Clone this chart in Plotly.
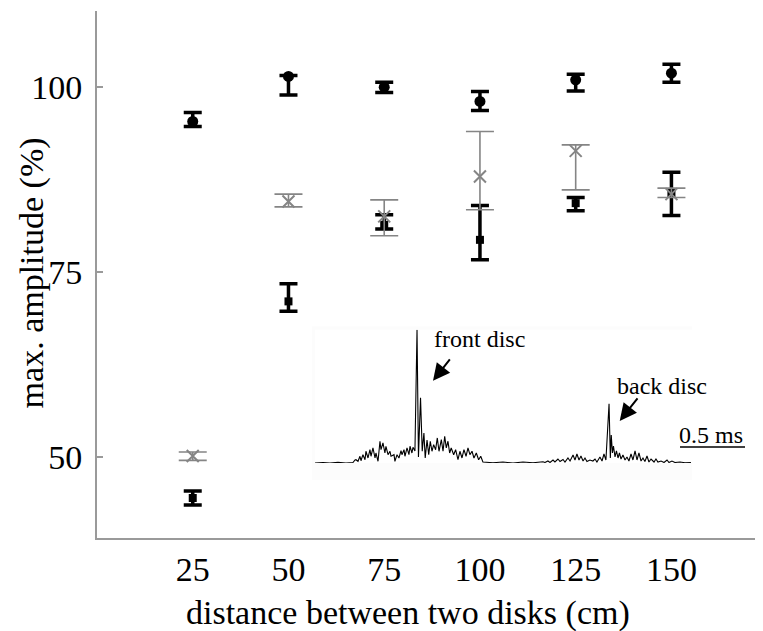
import plotly.graph_objects as go

# distances between the two discs (cm)
distance = [25, 50, 75, 100, 125, 150]

# front disc (filled circles)
front_mean = [95.36, 101.45, 100.0, 98.07, 100.99, 101.89]
front_plus = [1.22, 0.13, 0.68, 1.35, 0.77, 1.21]
front_minus = [0.67, 2.49, 0.72, 1.22, 1.49, 1.21]

# back disc (filled squares)
back_mean = [44.46, 71.04, 81.39, 79.36, 84.32, 85.68]
back_plus = [0.94, 2.38, 1.35, 4.65, 0.77, 2.83]
back_minus = [0.96, 1.35, 0.58, 2.70, 1.04, 3.02]

# grey crosses
cross_mean = [50.14, 84.55, 82.53, 87.93, 91.39, 85.54]
cross_plus = [0.54, 0.99, 2.24, 6.08, 0.81, 0.81]
cross_minus = [0.59, 0.73, 2.62, 4.51, 5.27, 0.45]

y_ticks = [50, 75, 100]

# inset: recorded signal (time in ms, amplitude in a.u.)
sig_t = [0, 0.062, 0.115, 0.177, 0.238, 0.292,
         0.308, 0.315, 0.331, 0.346, 0.354, 0.369, 0.385, 0.392, 0.408, 0.423,
         0.431, 0.446, 0.462, 0.469, 0.485, 0.500, 0.508, 0.523, 0.538, 0.546,
         0.562, 0.577, 0.585, 0.608, 0.615, 0.631, 0.646, 0.662, 0.669, 0.685,
         0.692, 0.708, 0.723, 0.731, 0.746, 0.754, 0.769,
         0.785, 0.796, 0.812, 0.825, 0.838, 0.848, 0.862, 0.875, 0.887, 0.900,
         0.913, 0.928, 0.941, 0.954, 0.972, 0.985, 0.998, 1.010, 1.023, 1.036,
         1.048, 1.067, 1.082, 1.100, 1.115, 1.131, 1.146, 1.162, 1.177, 1.192,
         1.208, 1.223, 1.241, 1.259, 1.275, 1.292, 1.318,
         1.369, 1.446, 1.523, 1.600, 1.677, 1.754,
         1.769, 1.792, 1.808, 1.831, 1.846, 1.869, 1.885, 1.908, 1.923, 1.946,
         1.962, 1.985, 2.000, 2.015, 2.031, 2.046, 2.062, 2.077, 2.092, 2.115,
         2.138, 2.154, 2.169, 2.192, 2.208, 2.223, 2.238,
         2.262, 2.272, 2.279, 2.288, 2.296, 2.308, 2.319, 2.331, 2.342, 2.354,
         2.369, 2.385, 2.400, 2.415, 2.431, 2.446, 2.462, 2.477, 2.492, 2.508,
         2.523, 2.538, 2.554, 2.569, 2.585, 2.608, 2.623, 2.638, 2.662, 2.685,
         2.708, 2.723, 2.746, 2.769, 2.808, 2.846, 2.892]
sig_a = [0, 0.5, 0, 0.7, 0, 0.5,
         3, 3.3, 1.7, 6.7, 2.3, 8.3, 3.3, 11.7, 5, 13.3,
         6.7, 15, 5, 10, 1.7, 21.7, 13.3, 20, 10, 16.7,
         8.3, 11.7, 6.7, 8.3, 1.7, 8.3, 5, 12.3, 8.3, 13.3,
         6.7, 15, 8.3, 16.7, 10, 15.7, 12,
         133, 6, 65, 11.7, 30, 5, 23, 8.3, 21.7, 11.7,
         18.3, 13.3, 25, 11.7, 23.3, 11.7, 26.7, 15, 21.7, 10,
         15, 8.3, 13.3, 3.3, 11.7, 5, 13.3, 6.7, 15, 8.3,
         11.7, 5, 10, 3.3, 6.7, 1, 0.7,
         0.3, 1, 0, 1, 0.3, 1.2,
         0.5, 2, 0.5, 3, 1, 4, 1.5, 3.5, 1, 5,
         2, 8, 3, 9, 3, 7, 2, 5, 1.5, 3,
         2, 4, 1, 6, 2, 9, 3,
         59, 5, 28, 10, 17, 6, 12, 5, 10, 4,
         8, 3, 6, 2, 9, 3, 12, 3, 10, 2,
         5, 1.5, 7, 1, 4, 1, 4, 1, 2, 0.5,
         3, 0.5, 2, 0.5, 1, 0.3, 0.5]

BLACK = "#000000"
GREY = "#858585"
AXIS_GREY = "#9a9a9a"
FONT = "Liberation Serif"

fig = go.Figure()

fig.add_trace(go.Scatter(
    x=distance, y=front_mean, mode="markers",
    marker=dict(symbol="circle", size=11, color=BLACK),
    error_y=dict(type="data", symmetric=False, array=front_plus, arrayminus=front_minus,
                 color=BLACK, thickness=3.5, width=9)))

fig.add_trace(go.Scatter(
    x=distance, y=back_mean, mode="markers",
    marker=dict(symbol="square", size=8, color=BLACK),
    error_y=dict(type="data", symmetric=False, array=back_plus, arrayminus=back_minus,
                 color=BLACK, thickness=3.5, width=9)))

fig.add_trace(go.Scatter(
    x=distance, y=cross_mean, mode="markers",
    marker=dict(symbol="x-thin-open", size=12, color=GREY, line=dict(color=GREY, width=2)),
    error_y=dict(type="data", symmetric=False, array=cross_plus, arrayminus=cross_minus,
                 color=GREY, thickness=1.6, width=14)))

# inset trace
fig.add_trace(go.Scatter(
    x=sig_t, y=sig_a, mode="lines", xaxis="x2", yaxis="y2",
    line=dict(color=BLACK, width=1.1)))

fig.update_layout(
    width=763, height=631,
    margin=dict(l=89, r=0, t=3, b=101, autoexpand=False),
    paper_bgcolor="white", plot_bgcolor="white",
    showlegend=False,
    font=dict(family=FONT, size=34, color=BLACK),
    xaxis=dict(
        range=[0, 176], tickvals=distance, ticks="", showgrid=False, zeroline=False,
        showline=True, linecolor=AXIS_GREY, linewidth=2, ticklabelstandoff=0,
        automargin=False),
    yaxis=dict(
        range=[39.05, 110.3], tickvals=y_ticks, ticks="inside", ticklen=6,
        tickcolor=AXIS_GREY, tickwidth=2, showgrid=False, zeroline=False,
        showline=True, linecolor=AXIS_GREY, linewidth=2, ticklabelstandoff=6,
        automargin=False),
    xaxis2=dict(domain=[0.3234, 0.9792], range=[0, 3.4], anchor="y2", visible=False),
    yaxis2=dict(domain=[0.1423, 0.3953], range=[0, 133], anchor="x2", visible=False),
)

# axis titles
title_font = dict(family=FONT, size=34, color=BLACK)
fig.add_annotation(xref="paper", yref="paper", x=-0.0972, y=0.503, xanchor="center", yanchor="middle",
                   text="max. amplitude (%)", textangle=-90, showarrow=False, font=title_font)
fig.add_annotation(xref="paper", yref="paper", x=0.4614, y=-0.1423, xanchor="center", yanchor="middle",
                   text="distance between two disks (cm)", showarrow=False, font=title_font)

# faint background of the pasted-in recording
fig.add_shape(type="rect", xref="paper", yref="paper", x0=0.319, x1=0.883, y0=0.110, y1=0.402,
              fillcolor="#fcfcfc", line=dict(width=0), layer="below")

# 0.5 ms scale bar
fig.add_shape(type="line", xref="x2", yref="y2", x0=2.808, x1=3.308, y0=16, y1=16,
              line=dict(color=BLACK, width=1.5))

small = dict(family=FONT, size=24, color=BLACK)
fig.add_annotation(x=3.05, y=28, xref="x2", yref="y2", text="0.5 ms", showarrow=False, font=small)
fig.add_annotation(x=1.267, y=124, xref="x2", yref="y2", text="front disc", showarrow=False, font=small)
fig.add_annotation(x=2.669, y=77, xref="x2", yref="y2", text="back disc", showarrow=False, font=small)

arrow = dict(showarrow=True, arrowhead=2, arrowsize=1.7, arrowwidth=2, arrowcolor=BLACK,
             text="", xref="x2", yref="y2")
fig.add_annotation(x=0.908, y=82, ax=18, ay=-23, **arrow)
fig.add_annotation(x=2.344, y=42, ax=19, ay=-24, **arrow)

fig.write_html("out.html")
